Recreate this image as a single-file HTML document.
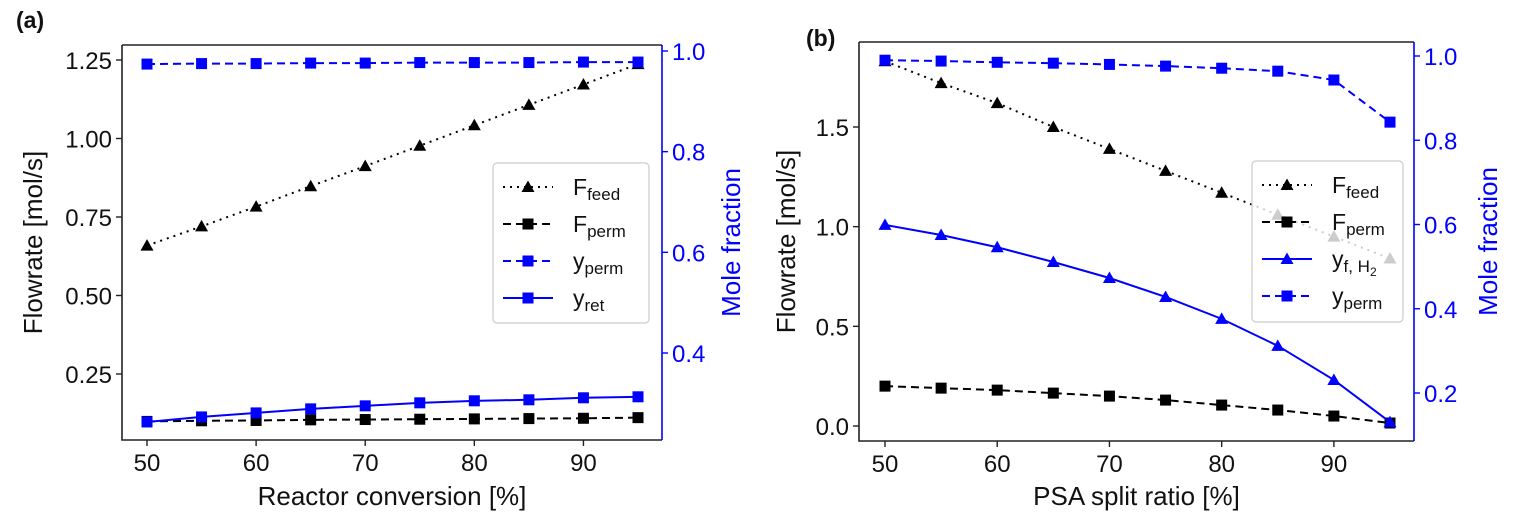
<!DOCTYPE html>
<html><head><meta charset="utf-8"><style>
body{margin:0;background:#fff;}
svg{display:block;font-family:"Liberation Sans","DejaVu Sans",sans-serif;}
</style></head><body>
<svg id="chart" width="1514" height="526"></svg>
<script>
const xCats=[50,55,60,65,70,75,80,85,90,95];
const xTicks=[50,60,70,80,90];
// Panel a
const aFeed=[0.659,0.72,0.783,0.848,0.912,0.977,1.042,1.107,1.172,1.237];
const aPerm=[0.099,0.101,0.102,0.104,0.105,0.106,0.107,0.108,0.109,0.111];
const aYperm=[0.974,0.975,0.975,0.976,0.976,0.977,0.977,0.977,0.978,0.978];
const aYret=[0.263,0.273,0.281,0.289,0.295,0.301,0.305,0.307,0.311,0.313];
const aLeftTicks=["0.25","0.50","0.75","1.00","1.25"];
const aRightTicks=["0.4","0.6","0.8","1.0"];
// Panel b
const bFeed=[1.83,1.72,1.62,1.50,1.39,1.28,1.17,1.06,0.95,0.84];
const bPerm=[0.20,0.19,0.18,0.165,0.15,0.13,0.105,0.08,0.05,0.015];
const bYfH2=[0.599,0.575,0.546,0.511,0.473,0.428,0.376,0.312,0.231,0.131];
const bYperm=[0.990,0.988,0.985,0.983,0.980,0.976,0.971,0.964,0.943,0.843];
const bLeftTicks=["0.0","0.5","1.0","1.5"];
const bRightTicks=["0.2","0.4","0.6","0.8","1.0"];

const NS="http://www.w3.org/2000/svg";
const svg=document.getElementById('chart');
function mk(tag,attrs,parent,text){const e=document.createElementNS(NS,tag);for(const k in attrs)e.setAttribute(k,attrs[k]);if(text!==undefined)e.textContent=text;(parent||svg).appendChild(e);return e;}
function lin(d0,d1,r0,r1){return v=>r0+(v-d0)*(r1-r0)/(d1-d0);}
function marker(g,type,x,y,col){
  if(type==='s'){const m=mk('rect',{x:x-5.5,y:y-5.5,width:11,height:11,fill:col},g);}
  else {const m=mk('polygon',{points:`${x},${y-6.5} ${x-6.5},${y+5} ${x+6.5},${y+5}`,fill:col},g);}
}
function series(g,vals,xs,ys,col,dash,type,name){
  const s=mk('g',{},g);
  
  
  const pts=vals.map((v,i)=>xs(xCats[i])+','+ys(v)).join(' ');
  mk('polyline',{points:pts,fill:'none',stroke:col,'stroke-width':2,'stroke-dasharray':dash},s);
  vals.forEach((v,i)=>marker(s,type,xs(xCats[i]),ys(v),col));
}
function panel(cfg){
  const g=mk('g',{});
  
  
  const {L,R,T,B}=cfg;
  const xs=lin(50,95,cfg.x50,cfg.x95);
  const yl=lin(cfg.yl0,cfg.yl1,cfg.ylp0,cfg.ylp1);
  const yr=lin(cfg.yr0,cfg.yr1,cfg.yrp0,cfg.yrp1);
  cfg.series.forEach(s=>series(g,s.vals,xs,s.axis==='l'?yl:yr,s.col,s.dash,s.type,s.name));
  const fr=mk('path',{d:`M${L},${T}H${R}M${L},${T}V${B}H${R}`,stroke:'#222','stroke-width':1.6,fill:'none'},g);
  
  const ra=mk('line',{x1:R,y1:T,x2:R,y2:B,stroke:'#0000ff','stroke-width':1.6},g);
  
  xTicks.forEach(t=>{const x=xs(t);mk('line',{x1:x,y1:B,x2:x,y2:B+6,stroke:'#222','stroke-width':1.4},g);
    const tx=mk('text',{x:x,y:B+31,'font-size':24,'text-anchor':'middle',fill:'#111'},g,t);});
  cfg.lt.forEach(t=>{const y=yl(parseFloat(t));mk('line',{x1:L-6,y1:y,x2:L,y2:y,stroke:'#222','stroke-width':1.4},g);
    const tx=mk('text',{x:L-10,y:y+9,'font-size':24,'text-anchor':'end',fill:'#111'},g,t);});
  cfg.rt.forEach(t=>{const y=yr(parseFloat(t));mk('line',{x1:R,y1:y,x2:R+6,y2:y,stroke:'#0000ff','stroke-width':1.4},g);
    const tx=mk('text',{x:R+10,y:y+9,'font-size':24,'text-anchor':'start',fill:'#0000ff'},g,t);});
  const xl=mk('text',{x:(L+R)/2,y:505,'font-size':26,'text-anchor':'middle',fill:'#111'},g,cfg.xlabel);
  
  const ly=(T+B)/2;
  const yt=mk('text',{x:0,y:0,'font-size':26,'text-anchor':'middle',fill:'#111',transform:`translate(${cfg.ylx},${ly}) rotate(-90)`},g,'Flowrate [mol/s]');
  
  const rt=mk('text',{x:0,y:0,'font-size':26,'text-anchor':'middle',fill:'#0000ff',transform:`translate(${cfg.yrx},${ly}) rotate(-90)`},g,'Mole fraction');
  
  const pl=mk('text',{x:cfg.px,y:cfg.py,'font-size':23,'font-weight':'bold',fill:'#111'},g,cfg.plabel);
  
  const lg=mk('g',{},g);
  
  
  const [lx,ly0,lw,lh]=cfg.leg;
  mk('rect',{x:lx,y:ly0,width:lw,height:lh,rx:4,fill:'rgba(255,255,255,0.8)',stroke:'#ccc','stroke-width':1.2},lg);
  cfg.series.forEach((s,i)=>{
    const e=mk('g',{},lg);
    
    
    const y=ly0+24+i*37;
    mk('line',{x1:lx+10,y1:y,x2:lx+60,y2:y,stroke:s.col,'stroke-width':2,'stroke-dasharray':s.dash},e);
    marker(e,s.type,lx+35,y,s.col);
    const t=mk('text',{x:lx+80,y:y+8,'font-size':23,fill:'#111'},e);
    mk('tspan',{},t,s.main);
    mk('tspan',{'font-size':17,dy:5},t,s.sub);
    if(s.sub2){mk('tspan',{'font-size':12,dy:4},t,'2');}
  });
}
panel({name:'panel-a',L:122,R:662,T:45,B:440,x50:147,x95:638,
  yl0:0.25,yl1:1.25,ylp0:374,ylp1:60,yr0:0.4,yr1:1.0,yrp0:353,yrp1:51,
  lt:aLeftTicks,rt:aRightTicks,xlabel:'Reactor conversion [%]',ylx:42,yrx:740,px:16,py:28,plabel:'(a)',
  leg:[493,163,156,160],
  series:[
   {vals:aFeed,axis:'l',col:'#000',dash:'2,5',type:'t',name:'series-f-feed',main:'F',sub:'feed'},
   {vals:aPerm,axis:'l',col:'#000',dash:'8,5',type:'s',name:'series-f-perm',main:'F',sub:'perm'},
   {vals:aYperm,axis:'r',col:'#0000ff',dash:'8,5',type:'s',name:'series-y-perm',main:'y',sub:'perm'},
   {vals:aYret,axis:'r',col:'#0000ff',dash:'none',type:'s',name:'series-y-ret',main:'y',sub:'ret'}]});
panel({name:'panel-b',L:859,R:1414,T:42,B:441,x50:885,x95:1390,
  yl0:0,yl1:1.5,ylp0:426,ylp1:127,yr0:0.2,yr1:1.0,yrp0:393,yrp1:56,
  lt:bLeftTicks,rt:bRightTicks,xlabel:'PSA split ratio [%]',ylx:795,yrx:1497,px:806,py:46,plabel:'(b)',
  leg:[1252,161,151,161],
  series:[
   {vals:bFeed,axis:'l',col:'#000',dash:'2,5',type:'t',name:'series-f-feed',main:'F',sub:'feed'},
   {vals:bPerm,axis:'l',col:'#000',dash:'8,5',type:'s',name:'series-f-perm',main:'F',sub:'perm'},
   {vals:bYfH2,axis:'r',col:'#0000ff',dash:'none',type:'t',name:'series-y-f-h2',main:'y',sub:'f, H',sub2:true},
   {vals:bYperm,axis:'r',col:'#0000ff',dash:'8,5',type:'s',name:'series-y-perm',main:'y',sub:'perm'}]});
</script>
</body></html>
